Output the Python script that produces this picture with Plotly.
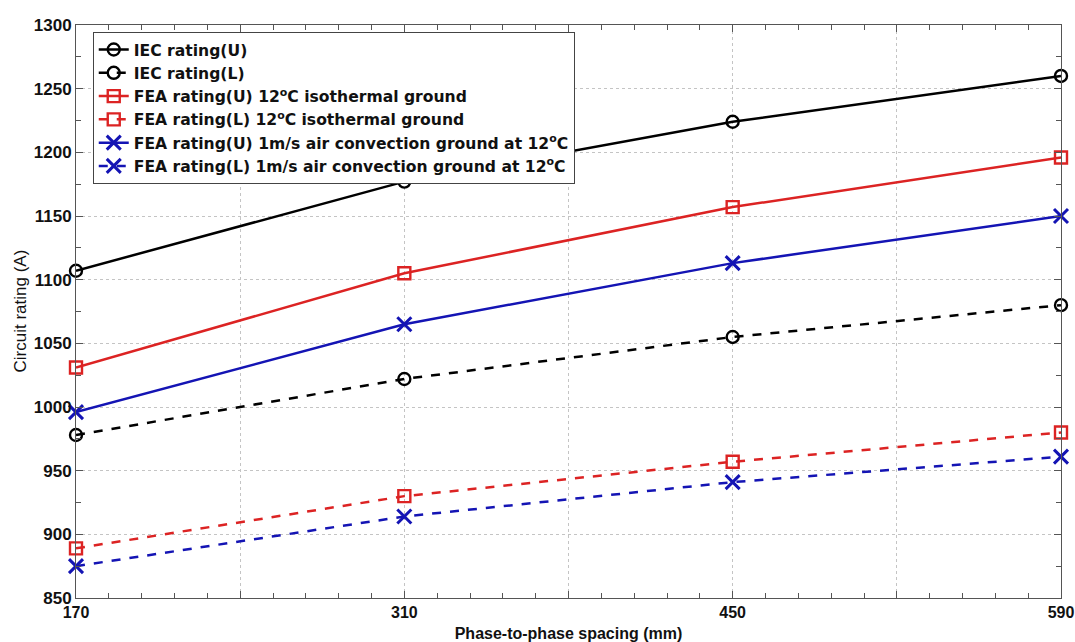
import plotly.graph_objects as go

# Phase-to-phase spacing (mm)
spacing = [170, 310, 450, 590]

# Circuit ratings (A)
iec_upper = [1107, 1177, 1224, 1260]
iec_lower = [978, 1022, 1055, 1080]
fea_iso_upper = [1031, 1105, 1157, 1196]
fea_iso_lower = [889, 930, 957, 980]
fea_air_upper = [996, 1065, 1113, 1150]
fea_air_lower = [875, 914, 941, 961]

# Axis ticks
x_tickvals = [170, 240, 310, 380, 450, 520, 590]
x_ticktext = ["170", "", "310", "", "450", "", "590"]
y_tickvals = [850, 900, 950, 1000, 1050, 1100, 1150, 1200, 1250, 1300]

BLACK = "#000000"
RED = "#dc2323"
BLUE = "#1414b4"
FONT = "Liberation Sans, Arial, sans-serif"

series = [
    ("IEC rating(U)", iec_upper, BLACK, "solid", "circle-open"),
    ("IEC rating(L)", iec_lower, BLACK, "dash", "circle-open"),
    ("FEA rating(U) 12<sup>o</sup>C isothermal ground", fea_iso_upper, RED, "solid", "square-open"),
    ("FEA rating(L) 12<sup>o</sup>C isothermal ground", fea_iso_lower, RED, "dash", "square-open"),
    ("FEA rating(U) 1m/s air convection ground at 12<sup>o</sup>C", fea_air_upper, BLUE, "solid", "x-thin-open"),
    ("FEA rating(L) 1m/s air convection ground at 12<sup>o</sup>C", fea_air_lower, BLUE, "dash", "x-thin-open"),
]

fig = go.Figure()
for name, values, color, dash, symbol in series:
    is_x = symbol.startswith("x")
    fig.add_trace(go.Scatter(
        x=spacing, y=values, name=name, mode="lines+markers",
        line=dict(color=color, width=2.5, dash=dash),
        marker=dict(symbol=symbol, size=14 if is_x else 12,
                    color=color, line=dict(color=color, width=3 if is_x else 2.4)),
        cliponaxis=False,
    ))

axis_common = dict(
    showline=True, linecolor="#555555", linewidth=1, mirror="allticks",
    ticks="inside", ticklen=7, tickcolor="#555555", tickwidth=1,
    showgrid=True, gridcolor="#c4c4c4", gridwidth=1, griddash="dot",
    zeroline=False, ticklabeloverflow="allow", automargin=False,
)

fig.update_xaxes(
    range=[170, 590], tickmode="array", tickvals=x_tickvals, ticktext=x_ticktext,
    tickfont=dict(family=FONT, size=16, color="#111111", weight="bold"),
    minor=dict(dtick=14, tick0=170, ticks="inside", ticklen=5, tickcolor="#555555", showgrid=False),
    title=dict(text="<b>Phase-to-phase spacing (mm)</b>",
               font=dict(family=FONT, size=16, color="#111111")),
    **axis_common,
)
fig.update_yaxes(
    range=[850, 1300], tickmode="array", tickvals=y_tickvals,
    tickfont=dict(family=FONT, size=17, color="#111111", weight="bold"),
    minor=dict(dtick=25, tick0=850, ticks="inside", ticklen=5, tickcolor="#555555", showgrid=False),
    **axis_common,
)

# Vertical axis title
fig.add_annotation(
    text="Circuit rating (A)", textangle=-90, showarrow=False,
    xref="paper", yref="paper", x=-56 / 985, y=0.5, xanchor="center", yanchor="middle",
    font=dict(family=FONT, size=17, color="#111111"),
)

fig.update_layout(
    width=1075, height=642,
    margin=dict(l=76, r=14, t=25, b=44),
    paper_bgcolor="white", plot_bgcolor="white",
    showlegend=True,
    legend=dict(
        x=0.017, y=0.988, xanchor="left", yanchor="top",
        bgcolor="white", bordercolor="#444444", borderwidth=1,
        font=dict(family="DejaVu Sans, sans-serif", size=15.6, color="#111111", weight="bold"),
        tracegroupgap=0, itemwidth=30,
    ),
)

fig.write_html("out.html")
